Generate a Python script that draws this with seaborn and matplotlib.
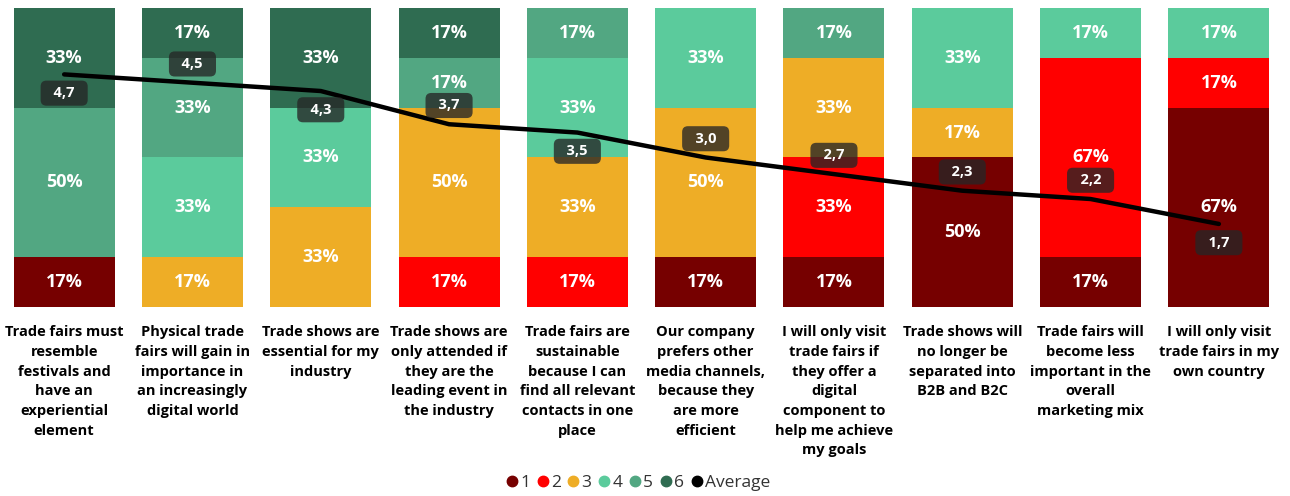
import numpy as np
import pandas as pd
import matplotlib
matplotlib.use("Agg")
import matplotlib.pyplot as plt
import seaborn as sns
from matplotlib.lines import Line2D

# Survey statements (wrapped as they appear under the bars)
statements = [
    "Trade fairs must\nresemble\nfestivals and\nhave an\nexperiential\nelement",
    "Physical trade\nfairs will gain in\nimportance in\nan increasingly\ndigital world",
    "Trade shows are\nessential for my\nindustry",
    "Trade shows are\nonly attended if\nthey are the\nleading event in\nthe industry",
    "Trade fairs are\nsustainable\nbecause I can\nfind all relevant\ncontacts in one\nplace",
    "Our company\nprefers other\nmedia channels,\nbecause they\nare more\nefficient",
    "I will only visit\ntrade fairs if\nthey offer a\ndigital\ncomponent to\nhelp me achieve\nmy goals",
    "Trade shows will\nno longer be\nseparated into\nB2B and B2C",
    "Trade fairs will\nbecome less\nimportant in the\noverall\nmarketing mix",
    "I will only visit\ntrade fairs in my\nown country",
]

# Number of respondents giving each rating (1 = lowest, 6 = highest)
rating_1 = [1, 0, 0, 0, 0, 1, 1, 3, 1, 4]
rating_2 = [0, 0, 0, 1, 1, 0, 2, 0, 4, 1]
rating_3 = [0, 1, 2, 3, 2, 3, 2, 1, 0, 0]
rating_4 = [0, 2, 2, 0, 2, 2, 0, 2, 1, 1]
rating_5 = [3, 2, 0, 1, 1, 0, 1, 0, 0, 0]
rating_6 = [2, 1, 2, 1, 0, 0, 0, 0, 0, 0]

levels = ["1", "2", "3", "4", "5", "6"]
colors = ["#760000", "#FF0000", "#EEAD26", "#5BCB9C", "#52A782", "#2F6C51"]

# side of the line on which each average label sits (+1 above, -1 below)
avg_label_side = [-1, 1, -1, 1, -1, 1, 1, 1, 1, -1]

counts = np.array([rating_1, rating_2, rating_3, rating_4, rating_5, rating_6], dtype=float)
totals = counts.sum(axis=0)
shares = counts / totals * 100
cum = np.cumsum(shares, axis=0)
scores = np.arange(1, 7).reshape(-1, 1)
average = (counts * scores).sum(axis=0) / totals

sns.set_theme(style="white")
plt.rcParams["font.family"] = ["Open Sans", "DejaVu Sans"]

fig = plt.figure(figsize=(12.9, 4.96), dpi=100)
ax = fig.add_axes([0.0, 0.381, 0.9946, 0.603])

df = pd.DataFrame({"statement": statements})
for k in range(5, -1, -1):
    df[f"cum_{k}"] = cum[k]
    sns.barplot(data=df, x="statement", y=f"cum_{k}", color=colors[k],
                saturation=1, width=0.787, errorbar=None, ax=ax,
                edgecolor="none", linewidth=0)

# percentage labels in the middle of each segment
for i in range(len(statements)):
    for k in range(6):
        if shares[k, i] > 0:
            mid = cum[k, i] - shares[k, i] / 2
            ax.text(i, mid, f"{shares[k, i]:.0f}%", ha="center", va="center",
                    color="white", fontsize=13, fontweight="bold")

ax.set_ylim(0, 100)
ax.set_xlim(-0.5, len(statements) - 0.5)
ax.set_xlabel("")
ax.set_ylabel("")
ax.set_yticks([])
ax.tick_params(axis="x", length=0, pad=13)
for lbl in ax.get_xticklabels():
    lbl.set_fontweight("bold")
    lbl.set_fontsize(10.5)
    lbl.set_color("black")
    lbl.set_linespacing(1.52)
    lbl.set_verticalalignment("top")
sns.despine(ax=ax, left=True, bottom=True)

# average rating line on a 0-6 scale
ax2 = ax.twinx()
pos = np.arange(len(statements))
sns.lineplot(x=pos, y=average, ax=ax2, color="black", linewidth=3.2,
             solid_capstyle="round", solid_joinstyle="round")
ax2.set_ylim(0, 6)
ax2.set_xlim(-0.5, len(statements) - 0.5)
ax2.set_yticks([])
ax2.set_ylabel("")
for s in ax2.spines.values():
    s.set_visible(False)

for i, (v, side) in enumerate(zip(average, avg_label_side)):
    ax2.annotate(f"  {v:.1f}  ".replace(".", ","), (i, v), xytext=(0, side * 13.5),
                 textcoords="offset points", ha="center", va="center",
                 color="white", fontsize=10.5, fontweight="bold",
                 bbox=dict(boxstyle="round,pad=0.38,rounding_size=0.4",
                           fc="#262626", ec="none", alpha=0.78))

handles = [Line2D([], [], marker="o", linestyle="none", markersize=7.5,
                  markerfacecolor=c, markeredgecolor=c) for c in colors]
handles.append(Line2D([], [], marker="o", linestyle="none", markersize=7.5,
                      markerfacecolor="black", markeredgecolor="black"))
fig.legend(handles, levels + ["Average"], loc="center", bbox_to_anchor=(0.495, 0.026),
           ncol=7, frameon=False, handlelength=0.55, handletextpad=0.2,
           columnspacing=0.45, fontsize=12.5, labelcolor="#333333")

fig.savefig("out.png", dpi=100)
